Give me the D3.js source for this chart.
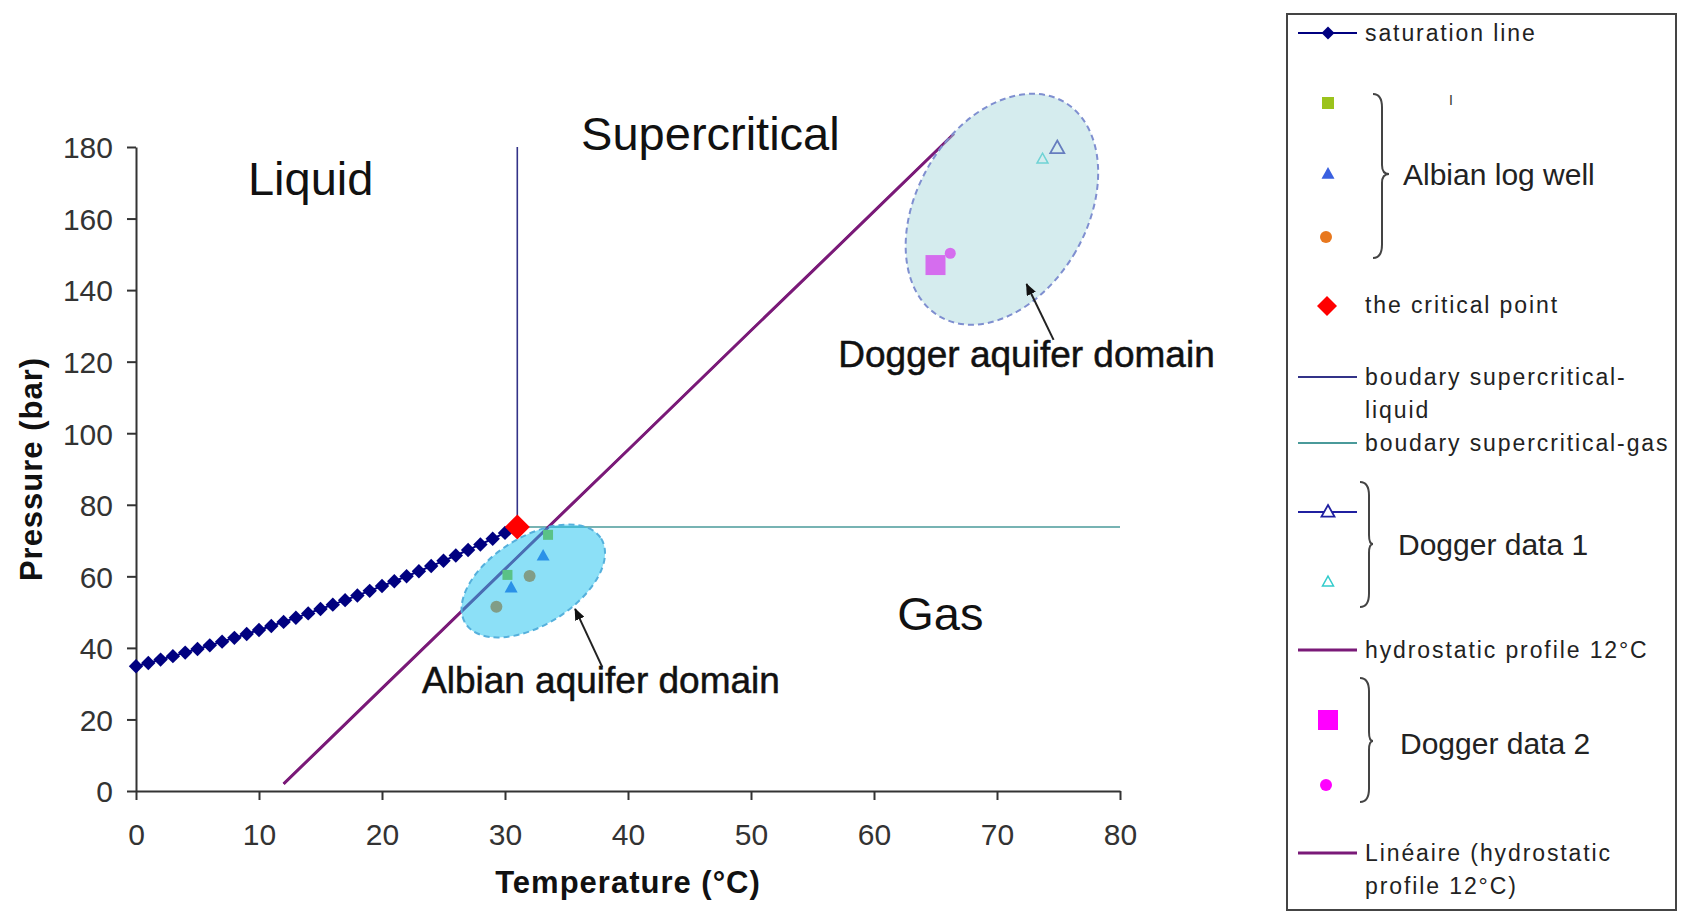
<!DOCTYPE html>
<html><head><meta charset="utf-8">
<script src="https://cdn.jsdelivr.net/npm/d3@7"></script>
<style>
html,body{margin:0;padding:0;background:#fff;}
svg{display:block;font-family:"Liberation Sans",Arial,sans-serif;}
</style>
</head><body>
<svg id="c" width="1681" height="916"></svg>
<script>
// ---------- data ----------
const xTicks = [0, 10, 20, 30, 40, 50, 60, 70, 80];
const yTicks = [0, 20, 40, 60, 80, 100, 120, 140, 160, 180];

// saturation line (°C, bar)
const satT = [0,1,2,3,4,5,6,7,8,9,10,11,12,13,14,15,16,17,18,19,20,21,22,23,24,25,26,27,28,29,30];
const satP = [34.85,35.77,36.72,37.69,38.68,39.70,40.71,41.75,42.81,43.90,45.02,46.13,47.27,48.44,49.64,50.86,52.09,53.34,54.63,55.94,57.29,58.64,60.01,61.42,62.87,64.34,65.83,67.35,68.91,70.50,72.14];

// critical point
const critT = [31];
const critP = [73.8];

// boundaries
const bLiqT = [31, 31];
const bLiqP = [73.8, 180];
const bGasT = [31, 80];
const bGasP = [73.8, 73.8];

// hydrostatic profile 12°C
const hydroT = [12, 15, 20, 25, 30, 35, 40, 45, 50, 55, 60, 66.5];
const hydroP = [2, 12, 28.7, 45.3, 62, 78.7, 95.3, 112, 128.7, 145.3, 162, 183.7];
// Linéaire (trend)
const linT = [12, 66.5];
const linP = [2, 183.7];

// Albian log well
const albSqT = [30.2, 33.5];   const albSqP = [60.4, 71.6];
const albTriT = [30.5, 33.1];  const albTriP = [56.8, 65.7];
const albCirT = [29.3, 32.0];  const albCirP = [51.5, 60.1];

// Dogger data 1
const dog1aT = [74.9]; const dog1aP = [179.7];
const dog1bT = [73.7]; const dog1bP = [176.6];
// Dogger data 2
const dog2SqT = [65.0]; const dog2SqP = [147.0];
const dog2CiT = [66.2]; const dog2CiP = [150.3];

// region labels
const regionLabels = ["Liquid", "Supercritical", "Gas"];
const regionT = [14.2, 46.7, 65.4];
const regionP = [166.5, 179.2, 45.0];

const domainLabels = ["Albian aquifer domain", "Dogger aquifer domain"];
const domainT = [37.8, 72.4];
const domainP = [27.3, 118.6];

// domain ellipses centers (°C, bar)
const ellT = [32.3, 70.4];
const ellP = [58.7, 162.6];

// arrows: head and tail (°C, bar)
const arrHeadT = [35.7, 72.4]; const arrHeadP = [50.9, 141.7];
const arrTailT = [37.9, 74.6]; const arrTailP = [34.7, 126.1];

// ---------- chart ----------
const svg = d3.select("#c");
svg.append("rect").attr("width",1681).attr("height",916).attr("fill","#fff");

const x = d3.scaleLinear().domain([0, 80]).range([136, 1120]);
const y = d3.scaleLinear().domain([0, 180]).range([791, 147]);

const defs = svg.append("defs");
defs.append("marker").attr("id","ah").attr("viewBox","0 0 12 10")
  .attr("refX",11).attr("refY",5).attr("markerWidth",12).attr("markerHeight",10)
  .attr("markerUnits","userSpaceOnUse").attr("orient","auto")
  .append("path").attr("d","M0,0L12,5L0,10Z").attr("fill","#111");

const diamond = (cx, cy, r) => `M${cx},${cy-r}L${cx+r},${cy}L${cx},${cy+r}L${cx-r},${cy}Z`;
const tri = (cx, cy, w) => { const h = w*0.9; return `M${cx},${cy-h*0.6}L${cx+w/2},${cy+h*0.4}L${cx-w/2},${cy+h*0.4}Z`; };

// axes
const gx = svg.append("g").attr("transform",`translate(0,${y(0)})`)
  .call(d3.axisBottom(x).tickValues(xTicks).tickSize(9).tickPadding(24).tickSizeOuter(0));
const gy = svg.append("g").attr("transform",`translate(${x(0)},0)`)
  .call(d3.axisLeft(y).tickValues(yTicks).tickSize(9).tickPadding(14).tickSizeOuter(0));
[gx, gy].forEach(g => {
  g.select(".domain").attr("stroke","#333").attr("stroke-width",2);
  g.selectAll(".tick line").attr("stroke","#333").attr("stroke-width",2);
  g.selectAll(".tick text").attr("fill","#333").style("font-size","30px")
    .style("font-family","'Liberation Sans',Arial,sans-serif");
});
gy.selectAll(".tick text").attr("dy","0.36em");

svg.append("text").attr("x", (x(0)+x(80))/2).attr("y", 893).attr("text-anchor","middle")
  .style("font-size","31px").style("font-weight","bold").attr("letter-spacing","1")
  .attr("fill","#111").text("Temperature (°C)");
svg.append("text").attr("transform",`translate(42,${(y(0)+y(180))/2}) rotate(-90)`)
  .attr("text-anchor","middle").style("font-size","31px").style("font-weight","bold")
  .attr("letter-spacing","1").attr("fill","#111").text("Pressure (bar)");

const line = d3.line().x(d => x(d[0])).y(d => y(d[1]));
const zip = (a, b) => a.map((v, i) => [v, b[i]]);

// boundary lines
svg.append("path").attr("d", line(zip(bLiqT, bLiqP))).attr("stroke","#333388").attr("stroke-width",1.6).attr("fill","none");
svg.append("path").attr("d", line(zip(bGasT, bGasP))).attr("stroke","#4a9a9a").attr("stroke-width",1.6).attr("fill","none");

// hydrostatic profile + trend
svg.append("path").attr("d", line(zip(hydroT, hydroP))).attr("stroke","#7a1a78").attr("stroke-width",3).attr("fill","none");
svg.append("path").attr("d", line(zip(linT, linP))).attr("stroke","#7a1a78").attr("stroke-width",2).attr("fill","none");

// saturation line
svg.append("path").attr("d", line(zip(satT, satP))).attr("stroke","#000080").attr("stroke-width",2).attr("fill","none");
svg.append("g").selectAll("path").data(zip(satT, satP)).join("path")
  .attr("d", d => diamond(x(d[0]), y(d[1]), 7.2)).attr("fill","#000080");

// Albian points
svg.append("g").selectAll("rect").data(zip(albSqT, albSqP)).join("rect")
  .attr("x", d => x(d[0])-5).attr("y", d => y(d[1])-5).attr("width",10).attr("height",10).attr("fill","#9bc31c");
svg.append("g").selectAll("path").data(zip(albTriT, albTriP)).join("path")
  .attr("d", d => tri(x(d[0]), y(d[1]), 13)).attr("fill","#3a60e0");
svg.append("g").selectAll("circle").data(zip(albCirT, albCirP)).join("circle")
  .attr("cx", d => x(d[0])).attr("cy", d => y(d[1])).attr("r",6).attr("fill","#e8781e");

// Dogger points
svg.append("g").selectAll("path").data(zip(dog1aT, dog1aP)).join("path")
  .attr("d", d => tri(x(d[0]), y(d[1]), 14)).attr("fill","none").attr("stroke","#2020a0").attr("stroke-width",1.8);
svg.append("g").selectAll("path").data(zip(dog1bT, dog1bP)).join("path")
  .attr("d", d => tri(x(d[0]), y(d[1]), 11)).attr("fill","none").attr("stroke","#33cccc").attr("stroke-width",1.5);
svg.append("g").selectAll("rect").data(zip(dog2SqT, dog2SqP)).join("rect")
  .attr("x", d => x(d[0])-10).attr("y", d => y(d[1])-10).attr("width",20).attr("height",20).attr("fill","#ff00ff");
svg.append("g").selectAll("circle").data(zip(dog2CiT, dog2CiP)).join("circle")
  .attr("cx", d => x(d[0])).attr("cy", d => y(d[1])).attr("r",5.5).attr("fill","#ff00ff");

// domain ellipses (semi-transparent overlay)
const ellStyle = [
  {rx: 80, ry: 44, rot: -32, fill: "rgb(25,193,239)", op: 0.5, stroke: "#55b0dc"},
  {rx: 85, ry: 124, rot: 30, fill: "rgb(172,217,221)", op: 0.5, stroke: "#7f8fd0"}
];
ellStyle.forEach((s, i) => {
  svg.append("ellipse").attr("cx",0).attr("cy",0).attr("rx",s.rx).attr("ry",s.ry)
    .attr("transform",`translate(${x(ellT[i])},${y(ellP[i])}) rotate(${s.rot})`)
    .attr("fill", s.fill).attr("fill-opacity", s.op)
    .attr("stroke", s.stroke).attr("stroke-width",2).attr("stroke-dasharray","6,4");
});

// critical point
svg.append("g").selectAll("path").data(zip(critT, critP)).join("path")
  .attr("d", d => diamond(x(d[0]), y(d[1]), 12.5)).attr("fill","#ff0000");

// region labels
regionLabels.forEach((t, i) => {
  svg.append("text").attr("x", x(regionT[i])).attr("y", y(regionP[i])).attr("text-anchor","middle")
    .style("font-size","47px").attr("fill","#111").text(t);
});
domainLabels.forEach((t, i) => {
  svg.append("text").attr("x", x(domainT[i])).attr("y", y(domainP[i])).attr("text-anchor","middle")
    .style("font-size","37px").attr("fill","#111").attr("stroke","#111").attr("stroke-width",0.5).text(t);
});

// arrows
arrHeadT.forEach((t, i) => {
  svg.append("line").attr("x1", x(arrTailT[i])).attr("y1", y(arrTailP[i]))
    .attr("x2", x(t)).attr("y2", y(arrHeadP[i]))
    .attr("stroke","#222").attr("stroke-width",2).attr("marker-end","url(#ah)");
});

// ---------- legend ----------
const lg = svg.append("g");
lg.append("rect").attr("x",1287).attr("y",14).attr("width",389).attr("height",896)
  .attr("fill","#fff").attr("stroke","#444").attr("stroke-width",2);

const lt = (xx, yy, txt) => lg.append("text").attr("x",xx).attr("y",yy).attr("dy","0.35em")
  .style("font-size","23px").attr("letter-spacing","1.9").attr("fill","#222").text(txt);
const bt = (xx, yy, txt) => lg.append("text").attr("x",xx).attr("y",yy).attr("dy","0.35em")
  .style("font-size","30px").attr("fill","#222").text(txt);
const ll = (yy, col, w) => lg.append("line").attr("x1",1298).attr("x2",1357).attr("y1",yy).attr("y2",yy)
  .attr("stroke",col).attr("stroke-width",w);
const brace = (x0, y0, y1, ym, tip) => {
  const c = 9;
  lg.append("path").attr("d",
    `M${x0},${y0} Q${x0+c},${y0} ${x0+c},${y0+c*1.5} L${x0+c},${ym-c} Q${x0+c},${ym} ${tip},${ym} Q${x0+c},${ym} ${x0+c},${ym+c} L${x0+c},${y1-c*1.5} Q${x0+c},${y1} ${x0},${y1}`)
    .attr("fill","none").attr("stroke","#444").attr("stroke-width",2);
};

// saturation line
ll(33, "#000080", 2);
lg.append("path").attr("d", diamond(1328, 33, 6.5)).attr("fill","#000080");
lt(1365, 33, "saturation line");

// Albian log well
lg.append("rect").attr("x",1322).attr("y",97).attr("width",12).attr("height",12).attr("fill","#9bc31c");
lg.append("path").attr("d", tri(1328, 174, 13)).attr("fill","#3a60e0");
lg.append("circle").attr("cx",1326).attr("cy",237).attr("r",6).attr("fill","#e8781e");
brace(1373, 94, 258, 174, 1389);
bt(1403, 174, "Albian log well");
lg.append("text").attr("x",1451).attr("y",100).attr("dy","0.35em").attr("text-anchor","middle")
  .style("font-size","14px").attr("fill","#333").text("I");

// critical point
lg.append("path").attr("d", diamond(1327, 306, 10)).attr("fill","#ff0000");
lt(1365, 305, "the critical point");

// boundary lines
ll(377, "#333388", 2);
lt(1365, 377, "boudary supercritical-");
lt(1365, 410, "liquid");
ll(443, "#4a9a9a", 2);
lt(1365, 443, "boudary supercritical-gas");

// Dogger data 1
ll(512, "#2020a0", 2);
lg.append("path").attr("d", tri(1328, 512, 13)).attr("fill","#fff").attr("stroke","#2020a0").attr("stroke-width",1.8);
lg.append("path").attr("d", tri(1328, 582, 11)).attr("fill","none").attr("stroke","#33cccc").attr("stroke-width",1.5);
brace(1360, 482, 607, 544, 1373);
bt(1398, 544, "Dogger data 1");

// hydrostatic
ll(650, "#7a1a78", 3);
lt(1365, 650, "hydrostatic profile 12°C");

// Dogger data 2
lg.append("rect").attr("x",1318).attr("y",710).attr("width",20).attr("height",20).attr("fill","#ff00ff");
lg.append("circle").attr("cx",1326).attr("cy",785).attr("r",6).attr("fill","#ff00ff");
brace(1360, 678, 802, 741, 1373);
bt(1400, 743, "Dogger data 2");

// Linéaire
ll(853, "#7a1a78", 3);
lt(1365, 853, "Linéaire (hydrostatic");
lt(1365, 886, "profile 12°C)");
</script>
</body></html>
